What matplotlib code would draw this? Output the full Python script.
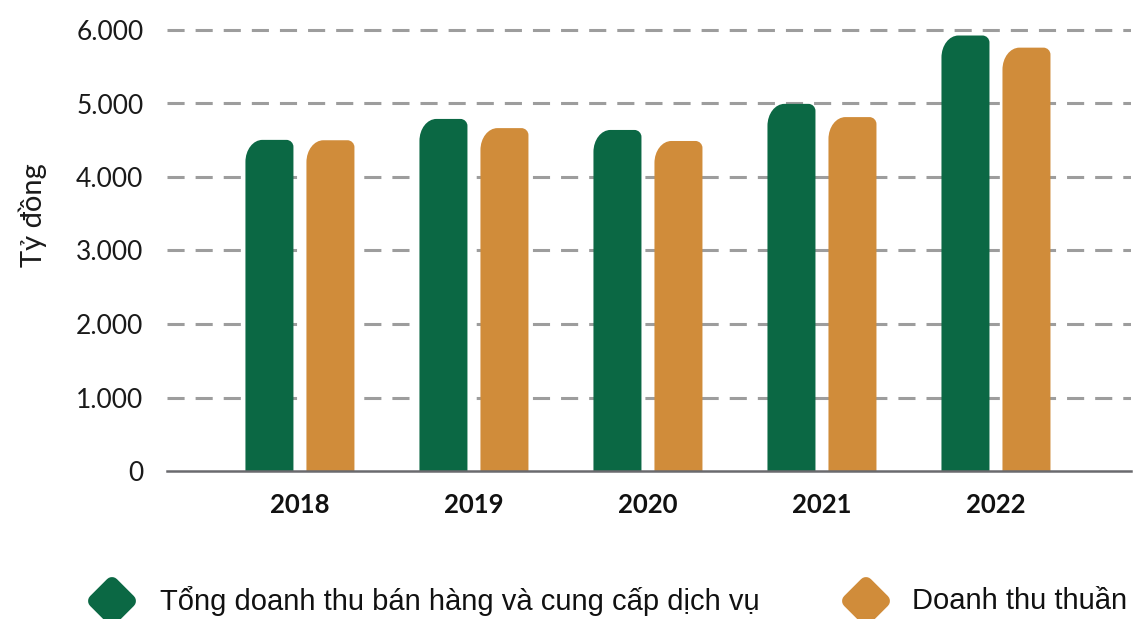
import matplotlib
matplotlib.use("Agg")
import matplotlib.pyplot as plt
from matplotlib.path import Path
from matplotlib.patches import PathPatch
from matplotlib.lines import Line2D
from matplotlib.markers import MarkerStyle
import numpy as np

# data (ty dong)
years = ["2018", "2019", "2020", "2021", "2022"]
tong_doanh_thu = [4505, 4790, 4640, 4995, 5925]
doanh_thu_thuan = [4500, 4665, 4490, 4815, 5760]
series_names = ["Tổng doanh thu bán hàng và cung cấp dịch vụ", "Doanh thu thuần"]
y_ticks = [0, 1000, 2000, 3000, 4000, 5000, 6000]
y_tick_labels = ["0", "1.000", "2.000", "3.000", "4.000", "5.000", "6.000"]

GREEN = "#0b6844"
ORANGE = "#d08c3a"
GRID = "#9d9d9d"
AXIS = "#6a6a6e"
FONT = "Lato"


def rounded_top_bar(ax, x0, width, height, r_left, r_right, color):
    """Bar with a big rounded top-left corner and a small top-right one.
    r_left / r_right are (rx, ry) in data units."""
    k = 0.5523
    x1 = x0 + width
    lx, ly = r_left
    rx, ry = r_right
    verts = [
        (x0, 0),
        (x0, height - ly),
        (x0, height - ly + k * ly), (x0 + lx - k * lx, height), (x0 + lx, height),
        (x1 - rx, height),
        (x1 - rx + k * rx, height), (x1, height - ry + k * ry), (x1, height - ry),
        (x1, 0),
        (x0, 0),
    ]
    codes = [Path.MOVETO, Path.LINETO,
             Path.CURVE4, Path.CURVE4, Path.CURVE4,
             Path.LINETO,
             Path.CURVE4, Path.CURVE4, Path.CURVE4,
             Path.LINETO, Path.CLOSEPOLY]
    patch = PathPatch(Path(verts, codes), facecolor=color, edgecolor="none", zorder=3)
    ax.add_patch(patch)


fig = plt.figure(figsize=(11.36, 6.19), dpi=100)
W, H = 1136, 619
ax = fig.add_axes([167 / W, (619 - 471) / H, (1131 - 167) / W, 448.35 / H])

xlim = (-0.764, 4.776)
ylim = (0, 6100)
ax.set_xlim(*xlim)
ax.set_ylim(*ylim)

# px -> data conversion
px_x = (xlim[1] - xlim[0]) / (1131 - 167)
px_y = (ylim[1] - ylim[0]) / 448.35

bar_w = 48 * px_x
offset = 30.5 * px_x
r_left = (17 * px_x, 22 * px_y)
r_right = (7 * px_x, 7 * px_y)

x = np.arange(len(years))
for i in x:
    rounded_top_bar(ax, i - offset - bar_w / 2, bar_w, tong_doanh_thu[i], r_left, r_right, GREEN)
    rounded_top_bar(ax, i + offset - bar_w / 2, bar_w, doanh_thu_thuan[i], r_left, r_right, ORANGE)

# dashed grid
for t in y_ticks[1:]:
    ax.axhline(t, color=GRID, lw=2.2, linestyle=(0, (5.6, 3.6)), zorder=1)

for side in ["top", "right", "left"]:
    ax.spines[side].set_visible(False)
ax.spines["bottom"].set_color(AXIS)
ax.spines["bottom"].set_linewidth(1.8)
ax.spines["bottom"].set_zorder(4)

ax.set_yticks(y_ticks)
ax.set_yticklabels(y_tick_labels, fontfamily=FONT, fontsize=19, color="#1a1a1a")
ax.set_xticks(x)
ax.set_xticklabels(years, fontfamily=FONT, fontsize=18.5, fontweight="bold", color="#111111")
ax.tick_params(axis="y", length=0, pad=17)
ax.tick_params(axis="x", length=0, pad=16)
for lbl in ax.get_xticklabels():
    lbl.set_x(lbl.get_position()[0])

fig.text(33 / W, 1 - 215 / H, "Tỷ đồng", rotation=90, ha="center", va="center",
         fontfamily=FONT, fontsize=21, color="#1a1a1a")

# legend drawn by hand: rounded diamonds + labels
diamond = MarkerStyle("D", joinstyle="round")
legend_items = [(112, 160, GREEN, series_names[0]), (866, 912, ORANGE, series_names[1])]
for mx, tx, col, name in legend_items:
    fig.add_artist(Line2D([mx / W], [1 - 601 / H], transform=fig.transFigure,
                          marker=diamond, markersize=17, color=col, markeredgecolor=col,
                          markeredgewidth=10, linestyle="none"))
    fig.text(tx / W, 1 - 601 / H, name, ha="left", va="center",
             fontfamily="Liberation Sans", fontsize=21, color="#111111")

fig.savefig("out.png", dpi=100)
